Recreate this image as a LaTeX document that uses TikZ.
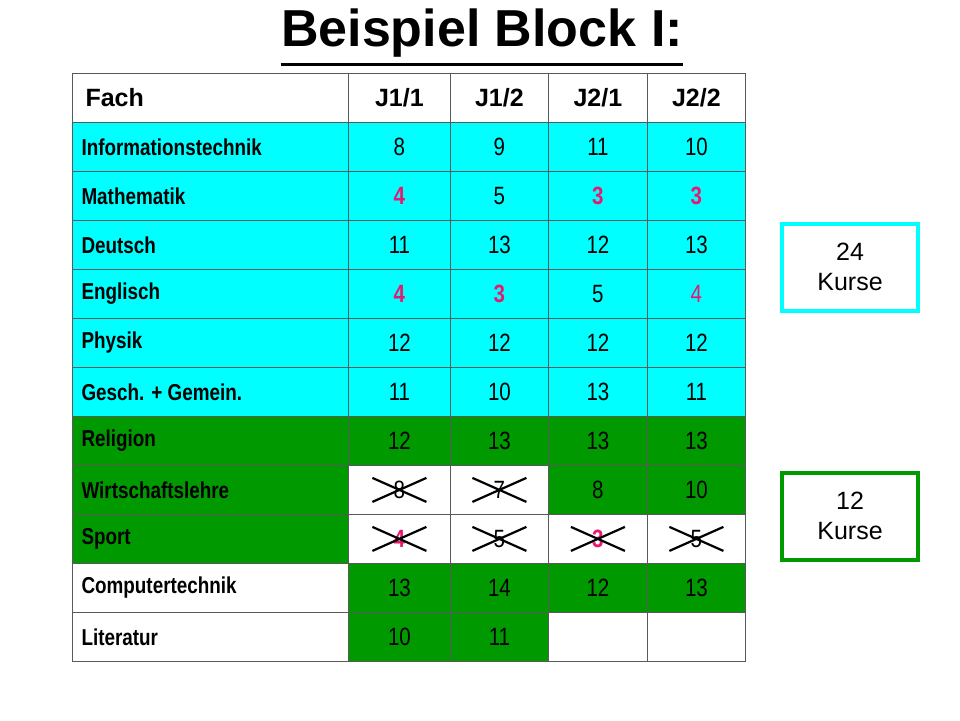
\documentclass[tikz,border=0pt]{standalone}
\usepackage{fontspec}
\setmainfont{Liberation Sans}
\newfontfamily\narrowf[FakeStretch=0.82]{Liberation Sans}
\definecolor{cy}{HTML}{00FFFF}
\definecolor{gr}{HTML}{009900}
\definecolor{rd}{HTML}{E8186E}
\begin{document}
\begin{tikzpicture}[x=1pt,y=-1pt,
  cell/.style={draw=gray!70!black,line width=0.8pt,minimum height=49pt,inner sep=0pt,anchor=north west},
  nm/.style={font=\narrowf\fontsize{25}{25}\selectfont},
  rb/.style={text=rd,font=\narrowf\bfseries\fontsize{25}{25}\selectfont},
  rn/.style={text=rd,font=\narrowf\fontsize{25}{25}\selectfont},
  lab/.style={anchor=west,font=\narrowf\bfseries\fontsize{23}{23}\selectfont},
  hd/.style={font=\bfseries\fontsize{25}{25}\selectfont},
  cross/.style={line width=2.2pt},
  kbox/.style={line width=4pt,minimum width=136pt,minimum height=87pt,align=center,font=\fontsize{25}{30}\selectfont,fill=white}]
\useasboundingbox (0,0) rectangle (960,720);
\node[font=\bfseries\fontsize{52}{52}\selectfont,inner sep=0pt] (title) at (482,33) {Beispiel Block I:};
\draw[line width=3.5pt] ([yshift=-7pt]title.south west) -- ([yshift=-7pt]title.south east);
\foreach \r/\fc/\ca/\cb/\cc/\cd in {
  0/white/white/white/white/white,
  1/cy/cy/cy/cy/cy, 2/cy/cy/cy/cy/cy, 3/cy/cy/cy/cy/cy, 4/cy/cy/cy/cy/cy,
  5/cy/cy/cy/cy/cy, 6/cy/cy/cy/cy/cy, 7/gr/gr/gr/gr/gr,
  8/gr/white/white/gr/gr, 9/gr/white/white/white/white,
  10/white/gr/gr/gr/gr, 11/white/gr/gr/white/white}{
  \pgfmathsetmacro\yy{73+49*\r}
  \node[cell,minimum width=276pt,fill=\fc] (f\r) at (72,\yy) {};
  \node[cell,minimum width=102pt,fill=\ca] (a\r) at (348,\yy) {};
  \node[cell,minimum width=98pt,fill=\cb] (b\r) at (450,\yy) {};
  \node[cell,minimum width=99pt,fill=\cc] (c\r) at (548,\yy) {};
  \node[cell,minimum width=98pt,fill=\cd] (d\r) at (647,\yy) {};
}
\node[hd,anchor=west] at ([xshift=10pt]f0.west) {Fach};
\node[hd] at (a0.center) {J1/1};
\node[hd] at (b0.center) {J1/2};
\node[hd] at (c0.center) {J2/1};
\node[hd] at (d0.center) {J2/2};
\foreach \r/\t in {1/Informationstechnik,2/Mathematik,3/Deutsch,4/Englisch,5/Physik,6/Gesch. + Gemein.,7/Religion,8/Wirtschaftslehre,9/Sport,10/Computertechnik,11/Literatur}{
  \node[lab] at ([xshift=6pt]f\r.west) {\t};
}
\foreach \r/\a/\b/\c/\d/\sa/\sb/\sc/\sd in {
 1/8/9/11/10/nm/nm/nm/nm, 2/4/5/3/3/rb/nm/rb/rb, 3/11/13/12/13/nm/nm/nm/nm,
 4/4/3/5/4/rb/rb/nm/rn, 5/12/12/12/12/nm/nm/nm/nm, 6/11/10/13/11/nm/nm/nm/nm,
 7/12/13/13/13/nm/nm/nm/nm, 8/8/7/8/10/nm/nm/nm/nm, 9/4/5/3/5/rb/nm/rb/nm,
 10/13/14/12/13/nm/nm/nm/nm}{
 \node[\sa] at (a\r.center) {\a};
 \node[\sb] at (b\r.center) {\b};
 \node[\sc] at (c\r.center) {\c};
 \node[\sd] at (d\r.center) {\d};
}
\node[nm] at (a11.center) {10};
\node[nm] at (b11.center) {11};
\foreach \n in {a8,b8,a9,b9,c9,d9}{
 \draw[cross] ([shift={(-27,-12)}]\n.center) -- ([shift={(27,12)}]\n.center);
 \draw[cross] ([shift={(-27,12)}]\n.center) -- ([shift={(27,-12)}]\n.center);
}
\node[kbox,draw=cy] (k24) at (850,267) {24\\Kurse};
\node[kbox,draw=gr] (k12) at (850,516) {12\\Kurse};
\end{tikzpicture}
\end{document}
